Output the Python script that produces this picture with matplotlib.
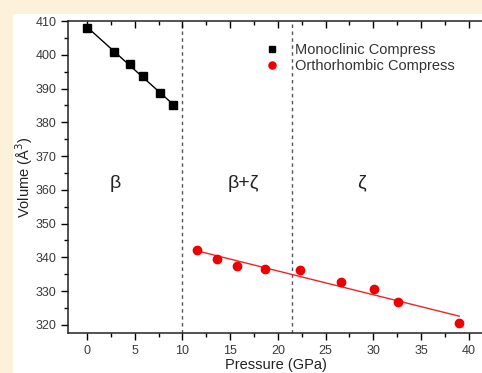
import numpy as np
import matplotlib
matplotlib.use("Agg")
import matplotlib.pyplot as plt
from matplotlib.patches import Rectangle
from matplotlib.ticker import MultipleLocator

plt.rcParams['font.family'] = ['Liberation Sans', 'DejaVu Sans']

# ---------------------------------------------------------------
# Data
# ---------------------------------------------------------------
mono_p = [0.0, 2.8, 4.5, 5.9, 7.6, 9.0]
mono_v = [408.0, 400.8, 397.2, 393.8, 388.7, 385.0]

ortho_p = [11.5, 13.6, 15.7, 18.6, 22.3, 26.6, 30.1, 32.6, 39.0]
ortho_v = [342.2, 339.5, 337.4, 336.6, 336.2, 332.8, 330.5, 326.9, 320.5]

boundaries = [10.0, 21.5]
phase_labels = ["β", "β+ζ", "ζ"]
phase_x = [2.9, 16.4, 28.8]
phase_y = [362, 362, 362]

# linear fits drawn over each data range
mono_fit = np.polyfit(mono_p, mono_v, 1)
ortho_fit = np.polyfit(ortho_p, ortho_v, 1)
mono_line_x = np.array([min(mono_p), max(mono_p)])
ortho_line_x = np.array([min(ortho_p), max(ortho_p)])

# ---------------------------------------------------------------
# Figure
# ---------------------------------------------------------------
W, H = 482, 373
fig = plt.figure(figsize=(W / 100, H / 100), dpi=100, facecolor="#fdf2d9")
fig.patches.append(Rectangle((13 / W, 0), 1, (H - 14) / H, transform=fig.transFigure,
                             facecolor="white", edgecolor="none", zorder=-5))

ax = fig.add_axes([68 / W, (H - 333) / H, (484 - 68) / W, (333 - 21) / H])
ax.set_facecolor("white")

for b in boundaries:
    ax.axvline(b, color="#555555", linestyle=(0, (2.5, 2.5)), linewidth=1.0, zorder=1)

ax.plot(mono_line_x, np.polyval(mono_fit, mono_line_x), color="black", linewidth=1.0, zorder=2)
ax.plot(ortho_line_x, np.polyval(ortho_fit, ortho_line_x), color="#e8262a", linewidth=1.0, zorder=2)

ax.plot(mono_p, mono_v, "s", color="black", markersize=5.5, linestyle="none",
        label="Monoclinic Compress", zorder=3)
ax.plot(ortho_p, ortho_v, "o", color="#ee0000", markersize=6, linestyle="none",
        label="Orthorhombic Compress", zorder=3)

for lab, x, y in zip(phase_labels, phase_x, phase_y):
    ax.text(x, y, lab, fontsize=14, ha="center", va="center", color="#222222")

ax.set_xlim(-2, 41.6)
ax.set_ylim(317.6, 410)
ax.xaxis.set_major_locator(MultipleLocator(5))
ax.xaxis.set_minor_locator(MultipleLocator(2.5))
ax.yaxis.set_major_locator(MultipleLocator(10))
ax.yaxis.set_minor_locator(MultipleLocator(5))

ax.tick_params(axis="both", which="major", labelsize=9, labelcolor="#3a3a3a", width=1.0, length=5)
ax.tick_params(axis="both", which="minor", width=1.0, length=3)
ax.tick_params(axis="x", which="both", direction="out", top=True)
ax.tick_params(axis="y", which="both", direction="out")
# top ticks point inward
for t in ax.xaxis.get_major_ticks() + ax.xaxis.get_minor_ticks():
    t.tick2line.set_marker(3)

for s in ax.spines.values():
    s.set_linewidth(1.1)
    s.set_color("#222222")

ax.set_xlabel("Pressure (GPa)", fontsize=10.5, color="#222222", labelpad=1)
ax.set_ylabel("Volume (Å$^3$)", fontsize=10.5, color="#222222", labelpad=0)

ax.legend(loc="upper left", bbox_to_anchor=((266 - 68) / 416, 1 - (43 - 21) / 312),
          frameon=False, fontsize=10.5, handlelength=0.8, handletextpad=1.2,
          markerscale=0.85, labelspacing=0.15, borderpad=0, borderaxespad=0,
          labelcolor="#333333")

fig.savefig("out.png", dpi=100, facecolor=fig.get_facecolor())
